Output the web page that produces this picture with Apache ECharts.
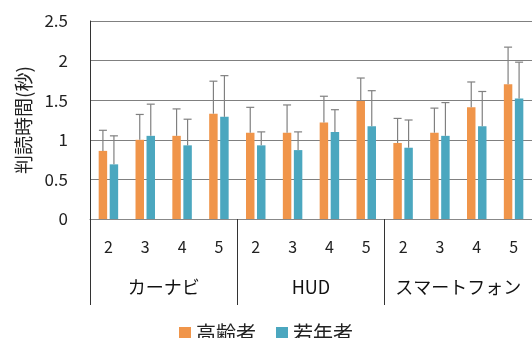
<!DOCTYPE html>
<html>
<head>
<meta charset="utf-8">
<script src="https://cdn.jsdelivr.net/npm/echarts@6/dist/echarts.min.js"></script>
<style>
html,body{margin:0;padding:0;background:#fff;}
#main{width:532px;height:338px;}
</style>
</head>
<body>
<div id="main"></div>
<script>
var FONT = '"Noto Sans CJK JP", "Noto Sans", sans-serif';

var levels = ['2', '3', '4', '5', '2', '3', '4', '5', '2', '3', '4', '5'];
var groups = ['カーナビ', 'HUD', 'スマートフォン'];
var seriesNames = ['高齢者', '若年者'];

// means (sec)
var elderMean = [0.86, 1.00, 1.05, 1.33, 1.09, 1.09, 1.22, 1.49, 0.96, 1.09, 1.41, 1.70];
var youngMean = [0.69, 1.05, 0.93, 1.29, 0.93, 0.87, 1.10, 1.17, 0.90, 1.05, 1.17, 1.52];
// standard deviations (upper error bar)
var elderSd = [0.26, 0.32, 0.34, 0.41, 0.32, 0.35, 0.33, 0.29, 0.31, 0.31, 0.32, 0.47];
var youngSd = [0.36, 0.40, 0.33, 0.52, 0.17, 0.23, 0.28, 0.45, 0.35, 0.42, 0.44, 0.46];

var yTicks = [0, 0.5, 1, 1.5, 2, 2.5];

var BAR_W = 0.23;   // bar width as share of category
var BAR_GAP = 0.3;  // gap between the two bars

function errData(mean, sd) {
    return mean.map(function (m, i) { return [i, m, sd[i]]; });
}

function errRender(sign) {
    return function (params, api) {
        var i = api.value(0), m = api.value(1), sd = api.value(2);
        var bw = api.size([1, 0])[0];
        var shift = sign * bw * BAR_W * (1 + BAR_GAP) / 2;
        var p0 = api.coord([i, m]);
        var p1 = api.coord([i, m + sd]);
        var x = p0[0] + shift;
        var st = { stroke: '#808080', lineWidth: 1.2 };
        return {
            type: 'group',
            children: [
                { type: 'line', shape: { x1: x, y1: p0[1], x2: x, y2: p1[1] }, style: st },
                { type: 'line', shape: { x1: x - 4, y1: p1[1], x2: x + 4, y2: p1[1] }, style: st }
            ]
        };
    };
}

var chart = echarts.init(document.getElementById('main'));
var option = {
    animation: false,
    textStyle: { fontFamily: FONT },
    grid: { left: 90, top: 21, right: -5, bottom: 119 },
    legend: {
        data: seriesNames,
        left: 'center',
        top: 318,
        itemWidth: 12,
        itemHeight: 12,
        itemGap: 20,
        icon: 'rect',
        textStyle: { fontSize: 20, color: '#222', fontFamily: FONT }
    },
    xAxis: [
        {
            type: 'category',
            data: levels,
            axisLine: { lineStyle: { color: '#888', width: 1.2 } },
            axisTick: { show: false },
            axisLabel: { interval: 0, margin: 20, fontSize: 16, color: '#222', fontFamily: FONT }
        },
        {
            type: 'category',
            data: groups,
            position: 'bottom',
            axisLine: { show: false },
            axisTick: { show: true, interval: 0, length: 86, lineStyle: { color: '#333' } },
            axisLabel: { interval: 0, margin: 59, fontSize: 18, color: '#111', fontFamily: FONT }
        }
    ],
    yAxis: {
        type: 'value',
        min: yTicks[0],
        max: yTicks[yTicks.length - 1],
        interval: 0.5,
        name: '判読時間(秒)',
        nameLocation: 'middle',
        nameGap: 56,
        nameTextStyle: { fontSize: 19, color: '#222', fontFamily: FONT },
        axisLine: { show: true, lineStyle: { color: '#333' } },
        axisTick: { show: false },
        axisLabel: { margin: 22, fontSize: 17, color: '#222', fontFamily: FONT },
        splitLine: { lineStyle: { color: '#808080', width: 1.2 } }
    },
    series: [
        {
            name: seriesNames[0],
            type: 'bar',
            data: elderMean,
            barWidth: (BAR_W * 100) + '%',
            barGap: (BAR_GAP * 100) + '%',
            itemStyle: { color: '#F0954A' }
        },
        {
            name: seriesNames[1],
            type: 'bar',
            data: youngMean,
            barWidth: (BAR_W * 100) + '%',
            barGap: (BAR_GAP * 100) + '%',
            itemStyle: { color: '#4BA7BF' }
        },
        {
            type: 'custom',
            renderItem: errRender(-1),
            data: errData(elderMean, elderSd),
            encode: { x: 0, y: 1 },
            z: 3
        },
        {
            type: 'custom',
            renderItem: errRender(1),
            data: errData(youngMean, youngSd),
            encode: { x: 0, y: 1 },
            z: 3
        }
    ]
};
chart.setOption(option);
</script>
</body>
</html>
